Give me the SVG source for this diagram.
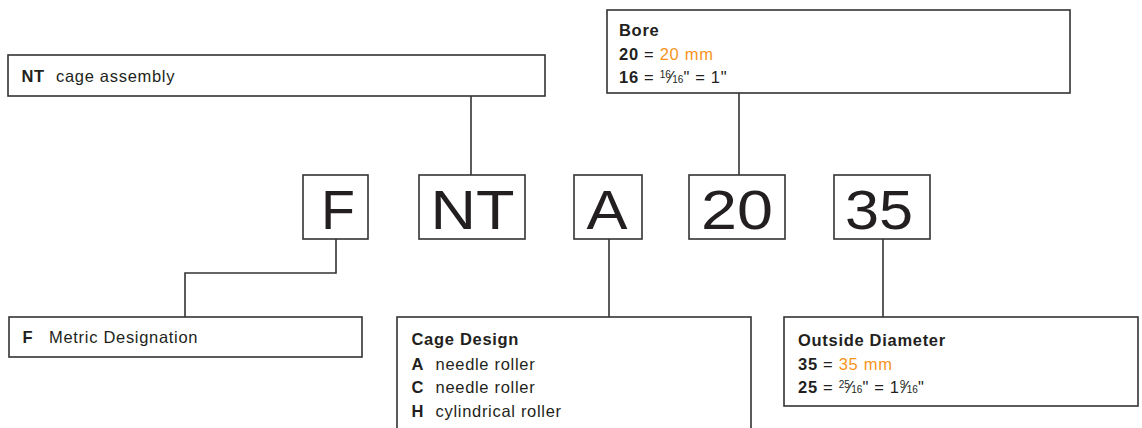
<svg xmlns="http://www.w3.org/2000/svg" width="1142" height="428" viewBox="0 0 1142 428">
<style>
.box{fill:#fff;stroke:#333;stroke-width:1.6}
.ln{fill:none;stroke:#333;stroke-width:1.6}
.big{font-family:"Liberation Sans",Arial,sans-serif;font-size:56px;fill:#231f20;text-anchor:middle}
.t{font-family:"Liberation Sans",Arial,sans-serif;font-size:16.5px;fill:#231f20;letter-spacing:0.7px}
.b{font-weight:bold}
.o{fill:#f7941d}
.s{font-size:10px;letter-spacing:0}
</style>
<g id="connectors">
<path class="ln" d="M471 96V175"/>
<path class="ln" d="M739 93V175"/>
<path class="ln" d="M336 239V273H185V317"/>
<path class="ln" d="M609 239V317"/>
<path class="ln" d="M883 239V317"/>
</g>
<g id="label-nt">
<rect class="box" x="8" y="55" width="537" height="41"/>
<text class="t" x="21.5" y="82"><tspan class="b">NT</tspan><tspan x="56">cage assembly</tspan></text>
</g>
<g id="label-bore">
<rect class="box" x="607" y="10" width="463" height="83"/>
<text class="t b" x="619" y="36">Bore</text>
<text class="t" x="619" y="60"><tspan class="b">20</tspan> = <tspan class="o">20 mm</tspan></text>
<text class="t" x="619" y="83"><tspan class="b">16</tspan> = <tspan class="s" dy="-5">16</tspan><tspan dy="5" dx="-1">⁄</tspan><tspan class="s" dx="-1">16</tspan>" = 1"</text>
</g>
<g id="code-f">
<rect class="box" x="303" y="175" width="65" height="64"/>
<text class="big" x="338" y="229" textLength="34" lengthAdjust="spacingAndGlyphs">F</text>
</g>
<g id="code-nt">
<rect class="box" x="419" y="175" width="106" height="64"/>
<text class="big" x="472.5" y="229" textLength="84" lengthAdjust="spacingAndGlyphs">NT</text>
</g>
<g id="code-a">
<rect class="box" x="574" y="175" width="68" height="64"/>
<text class="big" x="607" y="229" textLength="41" lengthAdjust="spacingAndGlyphs">A</text>
</g>
<g id="code-20">
<rect class="box" x="689" y="175" width="96" height="64"/>
<text class="big" x="737" y="229" textLength="72" lengthAdjust="spacingAndGlyphs">20</text>
</g>
<g id="code-35">
<rect class="box" x="834" y="175" width="96" height="64"/>
<text class="big" x="879" y="229" textLength="68" lengthAdjust="spacingAndGlyphs">35</text>
</g>
<g id="label-f">
<rect class="box" x="9" y="317" width="353" height="40"/>
<text class="t" x="22.5" y="343"><tspan class="b">F</tspan><tspan x="49">Metric Designation</tspan></text>
</g>
<g id="label-cage">
<rect class="box" x="397" y="317" width="354" height="120"/>
<text class="t b" x="411.5" y="345">Cage Design</text>
<text class="t" x="411.5" y="370"><tspan class="b">A</tspan><tspan x="435.5">needle roller</tspan></text>
<text class="t" x="411.5" y="393"><tspan class="b">C</tspan><tspan x="435.5">needle roller</tspan></text>
<text class="t" x="411.5" y="417"><tspan class="b">H</tspan><tspan x="435.5">cylindrical roller</tspan></text>
</g>
<g id="label-od">
<rect class="box" x="784" y="317" width="354" height="89"/>
<text class="t b" x="798" y="345.5">Outside Diameter</text>
<text class="t" x="798" y="370"><tspan class="b">35</tspan> = <tspan class="o">35 mm</tspan></text>
<text class="t" x="798" y="393"><tspan class="b">25</tspan> = <tspan class="s" dy="-5">25</tspan><tspan dy="5" dx="-1">⁄</tspan><tspan class="s" dx="-1">16</tspan>" = 1<tspan class="s" dy="-5">9</tspan><tspan dy="5" dx="-1">⁄</tspan><tspan class="s" dx="-1">16</tspan>"</text>
</g>
</svg>
